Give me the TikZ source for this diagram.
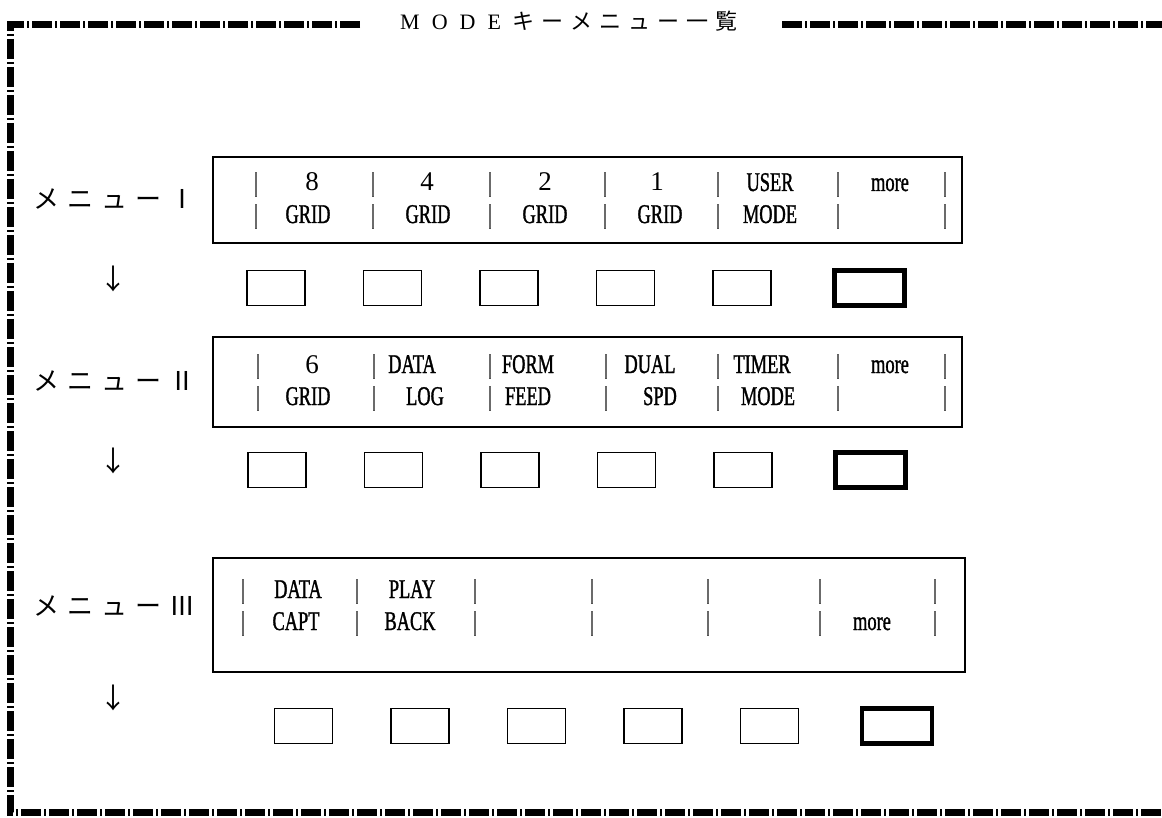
\documentclass[tikz,border=0pt]{standalone}
\usepackage{fontspec}
\setmainfont{Liberation Serif}
\newfontfamily\cond[FakeStretch=0.68,FakeBold=1.2]{Liberation Serif}
\newfontfamily\jp{Noto Sans CJK JP}
\makeatletter
\newcommand\spacedtext[2]{\@tfor\sp@c:=#2\do{\sp@c\kern#1}}
\makeatother
\begin{document}
\begin{tikzpicture}[x=1pt,y=-1pt,
  frame/.style={line width=7pt, dash pattern=on 20pt off 3pt on 2pt off 3pt},
  menubox/.style={draw, line width=1.6pt, inner sep=0pt},
  keybox/.style={draw, line width=1.6pt, minimum width=58pt, minimum height=35pt, inner sep=0pt},
  morekey/.style={draw, line width=4.5pt, minimum width=70pt, minimum height=35pt, inner sep=0pt},
  cell/.style={font=\cond\fontsize{27}{27}\selectfont, anchor=base, inner sep=0pt},
  digit/.style={font=\rmfamily\fontsize{27}{27}\selectfont, anchor=base, inner sep=0pt},
  menulabel/.style={font=\jp\fontsize{26}{26}\selectfont, anchor=west, inner sep=0pt},
  arrowlabel/.style={font=\jp\fontsize{28}{28}\selectfont, inner sep=0pt}]
\useasboundingbox (0,0) rectangle (1162,818);
% frame
\draw[frame] (360,25) -- (10,25) -- (10,812) -- (1162,812);
\draw[frame] (782,25) -- (1162,25);
% title
\node[anchor=west, inner sep=0pt, font=\fontsize{22}{22}\selectfont] (title) at (400,21)
  {\spacedtext{12pt}{MODE}{\jp\spacedtext{7pt}{キーメニュー一覧}}};
% menu boxes
\node[menubox, minimum width=749pt, minimum height=86pt] (m1) at (587.5,200) {};
\node[menubox, minimum width=749pt, minimum height=90pt] (m2) at (587.5,382) {};
\node[menubox, minimum width=752pt, minimum height=114pt] (m3) at (589,615) {};
% menu labels
\node[menulabel] (l1) at (33,199) {\spacedtext{8pt}{メニューⅠ}};
\node[menulabel] (l2) at (33,381) {\spacedtext{8pt}{メニューⅡ}};
\node[menulabel] (l3) at (33,606) {\spacedtext{8pt}{メニューⅢ}};
% arrows
\node[arrowlabel] (a1) at (113,279) {↓};
\node[arrowlabel] (a2) at (113,461) {↓};
\node[arrowlabel] (a3) at (113,698) {↓};
% bars
\foreach \r/\y/\xs in {1/191/{256,373,490,605,718,838,945}, 2/223/{256,373,490,605,718,838,945},
                       3/373/{258,374,490,606,718,838,945}, 4/405/{258,374,490,606,718,838,945},
                       5/598/{243,357,475,592,708,820,935}, 6/630/{243,357,475,592,708,820,935}}{
  \foreach \x [count=\i] in \xs { \node[cell] (bar\r-\i) at (\x,\y) {|}; }
}
% menu I
\node[digit] (t1a) at (312,191) {8};
\node[digit] (t1b) at (427,191) {4};
\node[digit] (t1c) at (545,191) {2};
\node[digit] (t1d) at (657,191) {1};
\node[cell] (t1e) at (770,191) {USER};
\node[cell] (t1f) at (890,191) {more};
\node[cell] (u1a) at (308,223) {GRID};
\node[cell] (u1b) at (428,223) {GRID};
\node[cell] (u1c) at (545,223) {GRID};
\node[cell] (u1d) at (660,223) {GRID};
\node[cell] (u1e) at (770,223) {MODE};
% menu II
\node[digit] (t2a) at (312,373) {6};
\node[cell] (t2b) at (412,373) {DATA};
\node[cell] (t2c) at (528,373) {FORM};
\node[cell] (t2d) at (650,373) {DUAL};
\node[cell] (t2e) at (762,373) {TIMER};
\node[cell] (t2f) at (890,373) {more};
\node[cell] (u2a) at (308,405) {GRID};
\node[cell] (u2b) at (425,405) {LOG};
\node[cell] (u2c) at (528,405) {FEED};
\node[cell] (u2d) at (660,405) {SPD};
\node[cell] (u2e) at (768,405) {MODE};
% menu III
\node[cell] (t3a) at (298,598) {DATA};
\node[cell] (t3b) at (412,598) {PLAY};
\node[cell] (u3a) at (296,630) {CAPT};
\node[cell] (u3b) at (410,630) {BACK};
\node[cell] (u3f) at (872,630) {more};
% key rows
\foreach \r/\x/\y in {1/276/288, 2/277/470, 3/303.5/726}{
  \foreach \k in {0,...,4}{ \node[keybox] (k\r-\k) at ({\x+116.5*\k},\y) {}; }
  \node[morekey] (k\r-5) at ({\x+116.5*5+11},\y) {};
}
\end{tikzpicture}
\end{document}
